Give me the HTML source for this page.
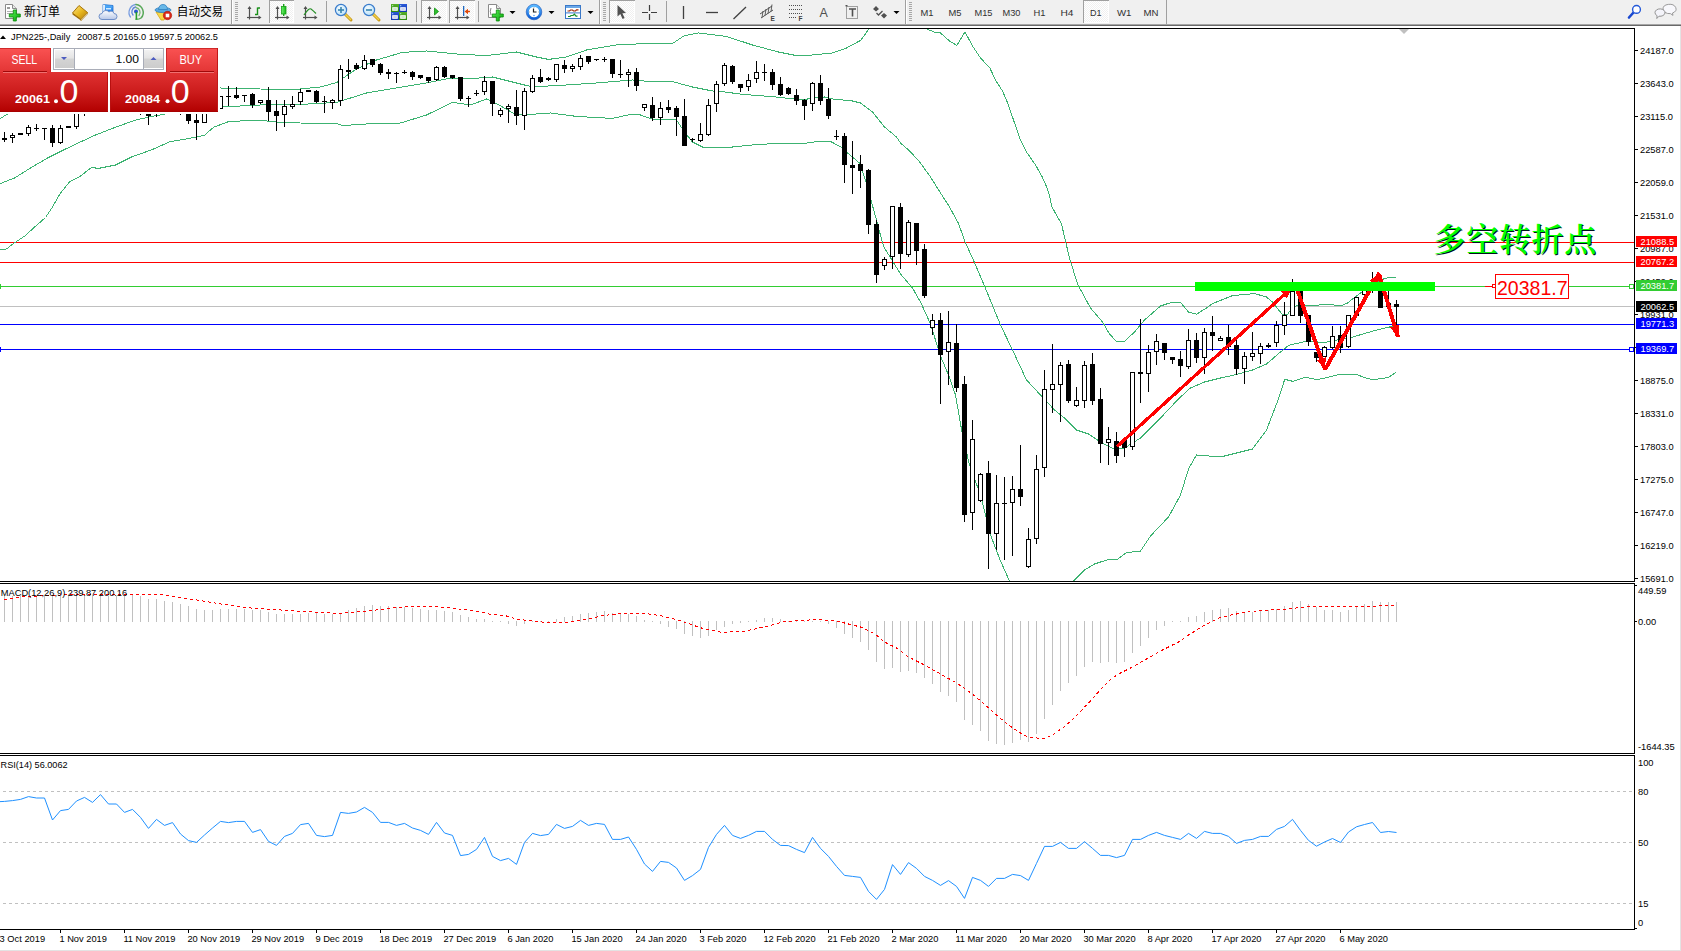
<!DOCTYPE html><html><head><meta charset="utf-8"><title>JPN225 Daily</title><style>
html,body{margin:0;padding:0;background:#fff;}body{width:1681px;height:951px;overflow:hidden;position:relative;font-family:'Liberation Sans', sans-serif;}
svg{position:absolute;left:0;top:0;}
.t{font-family:'Liberation Sans', sans-serif;font-size:9.3px;fill:#000;}
.cj{font-family:"Liberation Sans","Noto Sans CJK SC",sans-serif;}
</style></head><body>
<svg width="1681" height="951" viewBox="0 0 1681 951">
<defs><clipPath id="cm"><rect x="0" y="29" width="1634" height="552"/></clipPath><clipPath id="cmacd"><rect x="0" y="584" width="1634" height="169"/></clipPath><linearGradient id="gtop" x1="0" y1="0" x2="0" y2="1"><stop offset="0" stop-color="#fa5252"/><stop offset="1" stop-color="#e23434"/></linearGradient><linearGradient id="gbot" x1="0" y1="0" x2="0" y2="1"><stop offset="0" stop-color="#e03232"/><stop offset="0.5" stop-color="#cc1c1c"/><stop offset="1" stop-color="#b20000"/></linearGradient><linearGradient id="gbtn" x1="0" y1="0" x2="0" y2="1"><stop offset="0" stop-color="#f2f2f2"/><stop offset="0.45" stop-color="#e4e4e4"/><stop offset="0.5" stop-color="#d4d4d4"/><stop offset="1" stop-color="#cccccc"/></linearGradient><pattern id="chk" width="2" height="2" patternUnits="userSpaceOnUse"><rect width="2" height="2" fill="#f6f6f6"/><rect width="1" height="1" fill="#fff"/><rect x="1" y="1" width="1" height="1" fill="#fff"/></pattern></defs>
<rect width="1681" height="951" fill="#fff"/>
<g shape-rendering="crispEdges">
<rect x="0" y="28" width="1635" height="1" fill="#000"/>
<rect x="1634" y="28" width="1" height="554" fill="#000"/>
<rect x="0" y="581" width="1635" height="1" fill="#000"/>
<rect x="0" y="583" width="1635" height="1" fill="#000"/>
<rect x="1634" y="583" width="1" height="171" fill="#000"/>
<rect x="0" y="753" width="1635" height="1" fill="#000"/>
<rect x="0" y="755" width="1635" height="1" fill="#000"/>
<rect x="1634" y="755" width="1" height="175" fill="#000"/>
<rect x="0" y="929" width="1635" height="1" fill="#000"/>
<rect x="1680" y="26" width="1" height="925" fill="#e3e3e3"/>
<rect x="0" y="950" width="1681" height="1" fill="#e3e3e3"/>
</g>
<g clip-path="url(#cm)">
<g shape-rendering="crispEdges">
<rect x="0" y="242" width="1634" height="1" fill="#ff0000"/>
<rect x="0" y="262" width="1634" height="1" fill="#ff0000"/>
<rect x="0" y="286" width="1634" height="1" fill="#32cd32"/>
<rect x="0" y="306" width="1634" height="1" fill="#c0c0c0"/>
<rect x="0" y="324" width="1634" height="1" fill="#0000ff"/>
<rect x="0" y="349" width="1634" height="1" fill="#0000ff"/>
</g>
<polyline fill="none" stroke="#3cb371" stroke-width="1" shape-rendering="crispEdges" points="0.5,118.5 6.5,114.5 20.5,108.0 60.5,100.0 120.5,95.0 180.5,90.0 220.5,88.0 260.5,89.0 290.5,90.0 320.5,87.0 336.5,82.6 356.5,69.0 376.5,60.0 402.5,52.4 426.5,51.0 456.5,54.0 486.5,55.6 516.5,52.0 536.5,57.0 548.5,59.4 566.5,57.0 586.5,50.0 616.5,45.0 648.5,43.4 672.5,43.5 684.5,35.6 698.5,33.0 726.5,36.4 752.5,45.0 778.5,52.0 796.5,55.6 812.5,55.0 832.5,53.0 846.5,48.0 860.5,40.4 867.5,31.0 872.5,20.0 890.5,5.0 910.5,10.0 927.0,29.0 934.5,32.2 940.5,33.0 949.5,41.0 956.9,45.4 965.0,32.0 972.5,46.0 980.5,58.0 989.9,68.0 995.5,80.0 1002.5,91.0 1006.5,100.0 1012.5,117.0 1020.0,139.0 1026.5,152.0 1035.5,165.0 1041.5,175.5 1045.5,184.0 1049.0,194.0 1052.0,207.0 1061.5,224.0 1069.5,258.0 1077.5,284.0 1090.5,308.0 1102.5,322.0 1109.5,334.0 1116.5,341.4 1124.5,341.4 1134.5,332.0 1144.5,320.0 1160.5,306.0 1171.5,302.4 1180.5,302.4 1188.5,312.0 1196.5,314.2 1206.5,308.0 1212.5,303.6 1232.5,295.6 1254.5,293.6 1266.5,297.0 1273.5,303.0 1279.5,311.0 1282.9,315.0 1287.5,314.5 1290.5,310.0 1296.0,306.0 1311.2,305.5 1329.5,304.4 1336.5,305.3 1341.5,305.5 1347.5,303.0 1354.5,297.4 1361.5,292.3 1372.5,285.0 1384.0,278.7 1390.1,277.3 1396.1,277.3"/>
<polyline fill="none" stroke="#3cb371" stroke-width="1" shape-rendering="crispEdges" points="0.5,183.5 14.5,178.0 30.5,168.0 47.5,158.0 63.5,150.0 79.5,142.4 95.5,135.0 114.5,127.6 134.5,120.4 150.5,116.6 165.5,114.0 190.5,110.0 220.5,107.0 260.5,105.0 300.5,104.4 336.5,102.4 366.5,93.0 396.5,88.0 426.5,83.0 448.5,78.6 466.5,79.0 492.5,77.0 516.5,83.0 528.5,86.0 536.5,86.6 566.5,85.0 596.5,83.0 632.5,80.0 650.5,81.6 672.5,81.6 692.5,87.0 712.5,91.0 722.5,91.6 742.5,94.4 772.5,96.6 802.5,100.0 812.5,98.0 824.5,97.0 832.5,99.0 852.5,101.0 860.5,103.0 872.5,112.0 884.5,127.0 896.5,137.0 900.5,143.0 908.5,150.0 918.5,160.4 930.5,177.0 940.5,193.0 949.0,206.0 958.5,223.5 965.5,243.0 972.5,258.0 984.5,286.0 1000.5,325.0 1012.5,350.0 1026.5,380.0 1040.5,395.0 1054.5,410.0 1064.5,418.0 1076.5,430.0 1088.5,434.0 1100.5,442.0 1113.5,449.0 1124.5,448.0 1140.5,438.0 1160.5,418.0 1176.5,401.0 1189.5,388.5 1204.5,382.0 1220.5,378.0 1236.5,374.5 1252.5,370.0 1266.5,364.0 1280.5,352.0 1288.9,345.2 1305.5,341.5 1325.9,342.3 1339.5,339.4 1352.0,337.2 1373.0,331.0 1392.5,326.3 1395.5,326.0"/>
<polyline fill="none" stroke="#3cb371" stroke-width="1" shape-rendering="crispEdges" points="0.5,249.5 6.5,249.0 13.5,243.5 25.5,235.5 33.5,228.0 45.5,217.5 52.5,207.0 60.5,193.0 69.5,182.0 80.5,176.0 91.5,167.5 98.5,168.4 115.5,165.0 131.5,157.0 152.5,149.5 170.5,141.5 189.5,138.4 204.5,135.2 213.5,127.3 227.5,122.0 240.5,121.0 260.5,120.4 280.5,122.4 300.5,123.0 336.5,123.6 342.5,125.6 366.5,124.0 400.5,123.0 426.5,115.0 452.5,102.4 470.5,105.0 486.5,99.0 496.5,103.6 516.5,115.0 536.5,114.0 550.5,113.0 576.5,116.4 612.5,118.4 630.5,114.4 640.5,115.0 654.5,120.0 672.5,119.4 676.5,120.0 684.5,132.0 692.5,142.0 702.5,147.0 732.5,147.0 752.5,145.0 772.5,143.6 802.5,143.6 816.5,141.6 830.5,141.4 842.5,148.0 847.5,153.0 859.5,163.0 866.5,183.0 871.5,202.0 876.5,220.0 882.5,243.0 884.5,248.0 900.5,274.0 912.5,288.0 920.5,302.0 930.5,324.0 940.5,356.0 948.5,375.0 955.5,395.0 962.5,435.0 969.5,465.0 980.5,495.0 990.5,535.0 1000.5,561.0 1009.5,581.0 1020.5,600.0 1060.5,600.0 1073.5,581.0 1084.5,570.0 1094.5,564.0 1108.5,559.4 1117.5,559.4 1126.5,552.6 1140.5,551.0 1150.5,536.0 1168.5,517.0 1180.5,495.0 1188.5,469.0 1196.5,455.0 1220.5,457.0 1236.5,453.0 1252.5,449.0 1266.5,430.0 1276.5,404.0 1280.5,393.0 1284.7,379.3 1293.1,381.4 1305.7,377.2 1316.7,379.7 1326.8,377.6 1339.4,374.3 1356.2,374.3 1364.5,377.6 1373.0,379.7 1388.2,377.6 1396.2,372.2"/>
<g shape-rendering="crispEdges">
<rect x="4" y="132" width="1" height="10" fill="#000"/>
<rect x="2" y="138" width="5" height="2" fill="#000"/>
<rect x="12" y="133" width="1" height="10" fill="#000"/>
<rect x="10" y="135" width="5" height="3" fill="#000"/>
<rect x="11" y="136" width="3" height="1" fill="#fff"/>
<rect x="20" y="133" width="1" height="2" fill="#000"/>
<rect x="18" y="133" width="5" height="2" fill="#000"/>
<rect x="28" y="125" width="1" height="11" fill="#000"/>
<rect x="26" y="127" width="5" height="7" fill="#000"/>
<rect x="27" y="128" width="3" height="5" fill="#fff"/>
<rect x="36" y="124" width="1" height="7" fill="#000"/>
<rect x="34" y="128" width="5" height="1" fill="#000"/>
<rect x="44" y="128" width="1" height="12" fill="#000"/>
<rect x="42" y="128" width="5" height="1" fill="#000"/>
<rect x="52" y="125" width="1" height="22" fill="#000"/>
<rect x="50" y="128" width="5" height="15" fill="#000"/>
<rect x="60" y="125" width="1" height="19" fill="#000"/>
<rect x="58" y="128" width="5" height="15" fill="#000"/>
<rect x="59" y="129" width="3" height="13" fill="#fff"/>
<rect x="68" y="126" width="1" height="1" fill="#000"/>
<rect x="66" y="126" width="5" height="2" fill="#000"/>
<rect x="76" y="100" width="1" height="29" fill="#000"/>
<rect x="74" y="102" width="5" height="25" fill="#000"/>
<rect x="75" y="103" width="3" height="23" fill="#fff"/>
<rect x="84" y="100" width="1" height="16" fill="#000"/>
<rect x="82" y="102" width="5" height="11" fill="#000"/>
<rect x="83" y="103" width="3" height="9" fill="#fff"/>
<rect x="140" y="105" width="1" height="10" fill="#000"/>
<rect x="138" y="106" width="5" height="4" fill="#000"/>
<rect x="148" y="105" width="1" height="20" fill="#000"/>
<rect x="146" y="114" width="5" height="2" fill="#000"/>
<rect x="156" y="105" width="1" height="12" fill="#000"/>
<rect x="154" y="106" width="5" height="2" fill="#000"/>
<rect x="180" y="105" width="1" height="10" fill="#000"/>
<rect x="178" y="106" width="5" height="2" fill="#000"/>
<rect x="188" y="105" width="1" height="19" fill="#000"/>
<rect x="186" y="106" width="5" height="15" fill="#000"/>
<rect x="196" y="105" width="1" height="35" fill="#000"/>
<rect x="194" y="120" width="5" height="3" fill="#000"/>
<rect x="204" y="105" width="1" height="18" fill="#000"/>
<rect x="202" y="106" width="5" height="17" fill="#000"/>
<rect x="203" y="107" width="3" height="15" fill="#fff"/>
<rect x="220" y="96" width="1" height="13" fill="#000"/>
<rect x="218" y="96" width="5" height="13" fill="#000"/>
<rect x="219" y="97" width="3" height="11" fill="#fff"/>
<rect x="228" y="86" width="1" height="20" fill="#000"/>
<rect x="226" y="96" width="5" height="1" fill="#000"/>
<rect x="236" y="87" width="1" height="12" fill="#000"/>
<rect x="234" y="95" width="5" height="3" fill="#000"/>
<rect x="244" y="95" width="1" height="7" fill="#000"/>
<rect x="242" y="95" width="5" height="1" fill="#000"/>
<rect x="252" y="93" width="1" height="15" fill="#000"/>
<rect x="250" y="94" width="5" height="11" fill="#000"/>
<rect x="260" y="100" width="1" height="4" fill="#000"/>
<rect x="258" y="100" width="5" height="3" fill="#000"/>
<rect x="259" y="101" width="3" height="1" fill="#fff"/>
<rect x="268" y="87" width="1" height="34" fill="#000"/>
<rect x="266" y="100" width="5" height="12" fill="#000"/>
<rect x="276" y="100" width="1" height="31" fill="#000"/>
<rect x="274" y="111" width="5" height="5" fill="#000"/>
<rect x="284" y="100" width="1" height="27" fill="#000"/>
<rect x="282" y="106" width="5" height="9" fill="#000"/>
<rect x="283" y="107" width="3" height="7" fill="#fff"/>
<rect x="292" y="96" width="1" height="13" fill="#000"/>
<rect x="290" y="104" width="5" height="3" fill="#000"/>
<rect x="291" y="105" width="3" height="1" fill="#fff"/>
<rect x="300" y="89" width="1" height="16" fill="#000"/>
<rect x="298" y="92" width="5" height="10" fill="#000"/>
<rect x="299" y="93" width="3" height="8" fill="#fff"/>
<rect x="308" y="90" width="1" height="2" fill="#000"/>
<rect x="306" y="90" width="5" height="2" fill="#000"/>
<rect x="316" y="90" width="1" height="13" fill="#000"/>
<rect x="314" y="91" width="5" height="11" fill="#000"/>
<rect x="324" y="96" width="1" height="17" fill="#000"/>
<rect x="322" y="101" width="5" height="1" fill="#000"/>
<rect x="332" y="99" width="1" height="10" fill="#000"/>
<rect x="330" y="100" width="5" height="3" fill="#000"/>
<rect x="331" y="101" width="3" height="1" fill="#fff"/>
<rect x="340" y="65" width="1" height="41" fill="#000"/>
<rect x="338" y="69" width="5" height="32" fill="#000"/>
<rect x="339" y="70" width="3" height="30" fill="#fff"/>
<rect x="348" y="59" width="1" height="20" fill="#000"/>
<rect x="346" y="70" width="5" height="2" fill="#000"/>
<rect x="356" y="63" width="1" height="7" fill="#000"/>
<rect x="354" y="65" width="5" height="4" fill="#000"/>
<rect x="364" y="55" width="1" height="15" fill="#000"/>
<rect x="362" y="60" width="5" height="9" fill="#000"/>
<rect x="363" y="61" width="3" height="7" fill="#fff"/>
<rect x="372" y="59" width="1" height="8" fill="#000"/>
<rect x="370" y="59" width="5" height="6" fill="#000"/>
<rect x="380" y="63" width="1" height="12" fill="#000"/>
<rect x="378" y="64" width="5" height="9" fill="#000"/>
<rect x="388" y="69" width="1" height="10" fill="#000"/>
<rect x="386" y="72" width="5" height="2" fill="#000"/>
<rect x="396" y="72" width="1" height="11" fill="#000"/>
<rect x="394" y="73" width="5" height="1" fill="#000"/>
<rect x="404" y="70" width="1" height="4" fill="#000"/>
<rect x="402" y="72" width="5" height="1" fill="#000"/>
<rect x="412" y="71" width="1" height="9" fill="#000"/>
<rect x="410" y="72" width="5" height="5" fill="#000"/>
<rect x="420" y="75" width="1" height="4" fill="#000"/>
<rect x="418" y="75" width="5" height="3" fill="#000"/>
<rect x="428" y="77" width="1" height="6" fill="#000"/>
<rect x="426" y="77" width="5" height="4" fill="#000"/>
<rect x="436" y="66" width="1" height="15" fill="#000"/>
<rect x="434" y="67" width="5" height="13" fill="#000"/>
<rect x="435" y="68" width="3" height="11" fill="#fff"/>
<rect x="444" y="66" width="1" height="12" fill="#000"/>
<rect x="442" y="67" width="5" height="10" fill="#000"/>
<rect x="452" y="75" width="1" height="4" fill="#000"/>
<rect x="450" y="75" width="5" height="3" fill="#000"/>
<rect x="460" y="77" width="1" height="24" fill="#000"/>
<rect x="458" y="77" width="5" height="22" fill="#000"/>
<rect x="468" y="96" width="1" height="11" fill="#000"/>
<rect x="466" y="98" width="5" height="1" fill="#000"/>
<rect x="476" y="90" width="1" height="6" fill="#000"/>
<rect x="474" y="93" width="5" height="1" fill="#000"/>
<rect x="484" y="76" width="1" height="19" fill="#000"/>
<rect x="482" y="81" width="5" height="11" fill="#000"/>
<rect x="483" y="82" width="3" height="9" fill="#fff"/>
<rect x="492" y="81" width="1" height="35" fill="#000"/>
<rect x="490" y="81" width="5" height="23" fill="#000"/>
<rect x="500" y="108" width="1" height="9" fill="#000"/>
<rect x="498" y="110" width="5" height="5" fill="#000"/>
<rect x="499" y="111" width="3" height="3" fill="#fff"/>
<rect x="508" y="104" width="1" height="19" fill="#000"/>
<rect x="506" y="106" width="5" height="3" fill="#000"/>
<rect x="507" y="107" width="3" height="1" fill="#fff"/>
<rect x="516" y="90" width="1" height="35" fill="#000"/>
<rect x="514" y="107" width="5" height="9" fill="#000"/>
<rect x="524" y="88" width="1" height="42" fill="#000"/>
<rect x="522" y="91" width="5" height="25" fill="#000"/>
<rect x="523" y="92" width="3" height="23" fill="#fff"/>
<rect x="532" y="75" width="1" height="18" fill="#000"/>
<rect x="530" y="78" width="5" height="14" fill="#000"/>
<rect x="531" y="79" width="3" height="12" fill="#fff"/>
<rect x="540" y="69" width="1" height="14" fill="#000"/>
<rect x="538" y="77" width="5" height="5" fill="#000"/>
<rect x="548" y="77" width="1" height="4" fill="#000"/>
<rect x="546" y="78" width="5" height="2" fill="#000"/>
<rect x="556" y="64" width="1" height="18" fill="#000"/>
<rect x="554" y="64" width="5" height="16" fill="#000"/>
<rect x="555" y="65" width="3" height="14" fill="#fff"/>
<rect x="564" y="60" width="1" height="13" fill="#000"/>
<rect x="562" y="65" width="5" height="4" fill="#000"/>
<rect x="572" y="64" width="1" height="8" fill="#000"/>
<rect x="570" y="66" width="5" height="3" fill="#000"/>
<rect x="571" y="67" width="3" height="1" fill="#fff"/>
<rect x="580" y="55" width="1" height="15" fill="#000"/>
<rect x="578" y="58" width="5" height="9" fill="#000"/>
<rect x="579" y="59" width="3" height="7" fill="#fff"/>
<rect x="588" y="56" width="1" height="8" fill="#000"/>
<rect x="586" y="56" width="5" height="6" fill="#000"/>
<rect x="596" y="59" width="1" height="2" fill="#000"/>
<rect x="594" y="59" width="5" height="1" fill="#000"/>
<rect x="604" y="57" width="1" height="5" fill="#000"/>
<rect x="602" y="59" width="5" height="1" fill="#000"/>
<rect x="612" y="59" width="1" height="19" fill="#000"/>
<rect x="610" y="59" width="5" height="15" fill="#000"/>
<rect x="620" y="60" width="1" height="18" fill="#000"/>
<rect x="618" y="74" width="5" height="1" fill="#000"/>
<rect x="628" y="69" width="1" height="18" fill="#000"/>
<rect x="626" y="72" width="5" height="3" fill="#000"/>
<rect x="627" y="73" width="3" height="1" fill="#fff"/>
<rect x="636" y="68" width="1" height="23" fill="#000"/>
<rect x="634" y="72" width="5" height="14" fill="#000"/>
<rect x="644" y="104" width="1" height="7" fill="#000"/>
<rect x="642" y="104" width="5" height="4" fill="#000"/>
<rect x="643" y="105" width="3" height="2" fill="#fff"/>
<rect x="652" y="97" width="1" height="24" fill="#000"/>
<rect x="650" y="105" width="5" height="13" fill="#000"/>
<rect x="660" y="102" width="1" height="23" fill="#000"/>
<rect x="658" y="108" width="5" height="10" fill="#000"/>
<rect x="659" y="109" width="3" height="8" fill="#fff"/>
<rect x="668" y="100" width="1" height="13" fill="#000"/>
<rect x="666" y="107" width="5" height="3" fill="#000"/>
<rect x="676" y="106" width="1" height="30" fill="#000"/>
<rect x="674" y="108" width="5" height="9" fill="#000"/>
<rect x="684" y="99" width="1" height="47" fill="#000"/>
<rect x="682" y="116" width="5" height="30" fill="#000"/>
<rect x="692" y="138" width="1" height="4" fill="#000"/>
<rect x="690" y="139" width="5" height="1" fill="#000"/>
<rect x="700" y="123" width="1" height="19" fill="#000"/>
<rect x="698" y="134" width="5" height="7" fill="#000"/>
<rect x="699" y="135" width="3" height="5" fill="#fff"/>
<rect x="708" y="99" width="1" height="37" fill="#000"/>
<rect x="706" y="105" width="5" height="30" fill="#000"/>
<rect x="707" y="106" width="3" height="28" fill="#fff"/>
<rect x="716" y="81" width="1" height="31" fill="#000"/>
<rect x="714" y="84" width="5" height="20" fill="#000"/>
<rect x="715" y="85" width="3" height="18" fill="#fff"/>
<rect x="724" y="63" width="1" height="23" fill="#000"/>
<rect x="722" y="65" width="5" height="19" fill="#000"/>
<rect x="723" y="66" width="3" height="17" fill="#fff"/>
<rect x="732" y="65" width="1" height="19" fill="#000"/>
<rect x="730" y="66" width="5" height="16" fill="#000"/>
<rect x="740" y="84" width="1" height="8" fill="#000"/>
<rect x="738" y="84" width="5" height="4" fill="#000"/>
<rect x="748" y="74" width="1" height="17" fill="#000"/>
<rect x="746" y="80" width="5" height="7" fill="#000"/>
<rect x="747" y="81" width="3" height="5" fill="#fff"/>
<rect x="756" y="61" width="1" height="22" fill="#000"/>
<rect x="754" y="72" width="5" height="7" fill="#000"/>
<rect x="755" y="73" width="3" height="5" fill="#fff"/>
<rect x="764" y="64" width="1" height="17" fill="#000"/>
<rect x="762" y="72" width="5" height="1" fill="#000"/>
<rect x="772" y="69" width="1" height="21" fill="#000"/>
<rect x="770" y="72" width="5" height="13" fill="#000"/>
<rect x="780" y="77" width="1" height="19" fill="#000"/>
<rect x="778" y="84" width="5" height="11" fill="#000"/>
<rect x="788" y="87" width="1" height="8" fill="#000"/>
<rect x="786" y="88" width="5" height="6" fill="#000"/>
<rect x="796" y="89" width="1" height="16" fill="#000"/>
<rect x="794" y="95" width="5" height="6" fill="#000"/>
<rect x="804" y="99" width="1" height="21" fill="#000"/>
<rect x="802" y="100" width="5" height="6" fill="#000"/>
<rect x="812" y="82" width="1" height="29" fill="#000"/>
<rect x="810" y="83" width="5" height="21" fill="#000"/>
<rect x="811" y="84" width="3" height="19" fill="#fff"/>
<rect x="820" y="75" width="1" height="30" fill="#000"/>
<rect x="818" y="83" width="5" height="18" fill="#000"/>
<rect x="828" y="88" width="1" height="31" fill="#000"/>
<rect x="826" y="99" width="5" height="17" fill="#000"/>
<rect x="836" y="130" width="1" height="10" fill="#000"/>
<rect x="834" y="136" width="5" height="1" fill="#000"/>
<rect x="844" y="133" width="1" height="50" fill="#000"/>
<rect x="842" y="136" width="5" height="29" fill="#000"/>
<rect x="852" y="141" width="1" height="53" fill="#000"/>
<rect x="850" y="165" width="5" height="3" fill="#000"/>
<rect x="860" y="155" width="1" height="33" fill="#000"/>
<rect x="858" y="164" width="5" height="7" fill="#000"/>
<rect x="868" y="169" width="1" height="65" fill="#000"/>
<rect x="866" y="170" width="5" height="55" fill="#000"/>
<rect x="876" y="220" width="1" height="63" fill="#000"/>
<rect x="874" y="224" width="5" height="51" fill="#000"/>
<rect x="884" y="257" width="1" height="13" fill="#000"/>
<rect x="882" y="259" width="5" height="7" fill="#000"/>
<rect x="883" y="260" width="3" height="5" fill="#fff"/>
<rect x="892" y="206" width="1" height="63" fill="#000"/>
<rect x="890" y="206" width="5" height="51" fill="#000"/>
<rect x="891" y="207" width="3" height="49" fill="#fff"/>
<rect x="900" y="203" width="1" height="66" fill="#000"/>
<rect x="898" y="207" width="5" height="47" fill="#000"/>
<rect x="908" y="220" width="1" height="37" fill="#000"/>
<rect x="906" y="222" width="5" height="33" fill="#000"/>
<rect x="907" y="223" width="3" height="31" fill="#fff"/>
<rect x="916" y="223" width="1" height="42" fill="#000"/>
<rect x="914" y="223" width="5" height="28" fill="#000"/>
<rect x="924" y="244" width="1" height="54" fill="#000"/>
<rect x="922" y="249" width="5" height="47" fill="#000"/>
<rect x="932" y="314" width="1" height="21" fill="#000"/>
<rect x="930" y="320" width="5" height="8" fill="#000"/>
<rect x="931" y="321" width="3" height="6" fill="#fff"/>
<rect x="940" y="313" width="1" height="91" fill="#000"/>
<rect x="938" y="320" width="5" height="35" fill="#000"/>
<rect x="948" y="311" width="1" height="74" fill="#000"/>
<rect x="946" y="342" width="5" height="10" fill="#000"/>
<rect x="947" y="343" width="3" height="8" fill="#fff"/>
<rect x="956" y="324" width="1" height="68" fill="#000"/>
<rect x="954" y="343" width="5" height="45" fill="#000"/>
<rect x="964" y="376" width="1" height="146" fill="#000"/>
<rect x="962" y="384" width="5" height="131" fill="#000"/>
<rect x="972" y="420" width="1" height="110" fill="#000"/>
<rect x="970" y="439" width="5" height="74" fill="#000"/>
<rect x="971" y="440" width="3" height="72" fill="#fff"/>
<rect x="980" y="473" width="1" height="29" fill="#000"/>
<rect x="978" y="474" width="5" height="27" fill="#000"/>
<rect x="979" y="475" width="3" height="25" fill="#fff"/>
<rect x="988" y="461" width="1" height="108" fill="#000"/>
<rect x="986" y="473" width="5" height="61" fill="#000"/>
<rect x="996" y="475" width="1" height="75" fill="#000"/>
<rect x="994" y="503" width="5" height="31" fill="#000"/>
<rect x="995" y="504" width="3" height="29" fill="#fff"/>
<rect x="1004" y="477" width="1" height="83" fill="#000"/>
<rect x="1002" y="503" width="5" height="1" fill="#000"/>
<rect x="1012" y="476" width="1" height="80" fill="#000"/>
<rect x="1010" y="489" width="5" height="14" fill="#000"/>
<rect x="1011" y="490" width="3" height="12" fill="#fff"/>
<rect x="1020" y="445" width="1" height="61" fill="#000"/>
<rect x="1018" y="489" width="5" height="8" fill="#000"/>
<rect x="1028" y="528" width="1" height="40" fill="#000"/>
<rect x="1026" y="539" width="5" height="28" fill="#000"/>
<rect x="1027" y="540" width="3" height="26" fill="#fff"/>
<rect x="1036" y="455" width="1" height="89" fill="#000"/>
<rect x="1034" y="469" width="5" height="70" fill="#000"/>
<rect x="1035" y="470" width="3" height="68" fill="#fff"/>
<rect x="1044" y="370" width="1" height="107" fill="#000"/>
<rect x="1042" y="389" width="5" height="79" fill="#000"/>
<rect x="1043" y="390" width="3" height="77" fill="#fff"/>
<rect x="1052" y="344" width="1" height="69" fill="#000"/>
<rect x="1050" y="384" width="5" height="6" fill="#000"/>
<rect x="1051" y="385" width="3" height="4" fill="#fff"/>
<rect x="1060" y="362" width="1" height="60" fill="#000"/>
<rect x="1058" y="365" width="5" height="20" fill="#000"/>
<rect x="1059" y="366" width="3" height="18" fill="#fff"/>
<rect x="1068" y="360" width="1" height="43" fill="#000"/>
<rect x="1066" y="364" width="5" height="37" fill="#000"/>
<rect x="1076" y="387" width="1" height="20" fill="#000"/>
<rect x="1074" y="400" width="5" height="6" fill="#000"/>
<rect x="1075" y="401" width="3" height="4" fill="#fff"/>
<rect x="1084" y="361" width="1" height="47" fill="#000"/>
<rect x="1082" y="365" width="5" height="36" fill="#000"/>
<rect x="1083" y="366" width="3" height="34" fill="#fff"/>
<rect x="1092" y="353" width="1" height="52" fill="#000"/>
<rect x="1090" y="364" width="5" height="37" fill="#000"/>
<rect x="1100" y="388" width="1" height="75" fill="#000"/>
<rect x="1098" y="399" width="5" height="45" fill="#000"/>
<rect x="1108" y="427" width="1" height="38" fill="#000"/>
<rect x="1106" y="439" width="5" height="4" fill="#000"/>
<rect x="1107" y="440" width="3" height="2" fill="#fff"/>
<rect x="1116" y="432" width="1" height="31" fill="#000"/>
<rect x="1114" y="441" width="5" height="15" fill="#000"/>
<rect x="1124" y="438" width="1" height="19" fill="#000"/>
<rect x="1122" y="440" width="5" height="8" fill="#000"/>
<rect x="1132" y="372" width="1" height="78" fill="#000"/>
<rect x="1130" y="372" width="5" height="75" fill="#000"/>
<rect x="1131" y="373" width="3" height="73" fill="#fff"/>
<rect x="1140" y="319" width="1" height="84" fill="#000"/>
<rect x="1138" y="372" width="5" height="2" fill="#000"/>
<rect x="1148" y="345" width="1" height="47" fill="#000"/>
<rect x="1146" y="352" width="5" height="22" fill="#000"/>
<rect x="1147" y="353" width="3" height="20" fill="#fff"/>
<rect x="1156" y="334" width="1" height="31" fill="#000"/>
<rect x="1154" y="341" width="5" height="11" fill="#000"/>
<rect x="1155" y="342" width="3" height="9" fill="#fff"/>
<rect x="1164" y="343" width="1" height="17" fill="#000"/>
<rect x="1162" y="343" width="5" height="10" fill="#000"/>
<rect x="1172" y="357" width="1" height="7" fill="#000"/>
<rect x="1170" y="357" width="5" height="3" fill="#000"/>
<rect x="1180" y="351" width="1" height="26" fill="#000"/>
<rect x="1178" y="359" width="5" height="7" fill="#000"/>
<rect x="1188" y="329" width="1" height="40" fill="#000"/>
<rect x="1186" y="340" width="5" height="27" fill="#000"/>
<rect x="1187" y="341" width="3" height="25" fill="#fff"/>
<rect x="1196" y="333" width="1" height="30" fill="#000"/>
<rect x="1194" y="340" width="5" height="18" fill="#000"/>
<rect x="1204" y="328" width="1" height="46" fill="#000"/>
<rect x="1202" y="332" width="5" height="26" fill="#000"/>
<rect x="1203" y="333" width="3" height="24" fill="#fff"/>
<rect x="1212" y="316" width="1" height="35" fill="#000"/>
<rect x="1210" y="332" width="5" height="4" fill="#000"/>
<rect x="1220" y="336" width="1" height="5" fill="#000"/>
<rect x="1218" y="338" width="5" height="3" fill="#000"/>
<rect x="1219" y="339" width="3" height="1" fill="#fff"/>
<rect x="1228" y="325" width="1" height="30" fill="#000"/>
<rect x="1226" y="337" width="5" height="10" fill="#000"/>
<rect x="1236" y="340" width="1" height="35" fill="#000"/>
<rect x="1234" y="345" width="5" height="24" fill="#000"/>
<rect x="1244" y="352" width="1" height="32" fill="#000"/>
<rect x="1242" y="356" width="5" height="13" fill="#000"/>
<rect x="1243" y="357" width="3" height="11" fill="#fff"/>
<rect x="1252" y="332" width="1" height="29" fill="#000"/>
<rect x="1250" y="353" width="5" height="4" fill="#000"/>
<rect x="1251" y="354" width="3" height="2" fill="#fff"/>
<rect x="1260" y="343" width="1" height="21" fill="#000"/>
<rect x="1258" y="346" width="5" height="8" fill="#000"/>
<rect x="1259" y="347" width="3" height="6" fill="#fff"/>
<rect x="1268" y="343" width="1" height="5" fill="#000"/>
<rect x="1266" y="345" width="5" height="2" fill="#000"/>
<rect x="1276" y="321" width="1" height="26" fill="#000"/>
<rect x="1274" y="325" width="5" height="18" fill="#000"/>
<rect x="1275" y="326" width="3" height="16" fill="#fff"/>
<rect x="1284" y="302" width="1" height="33" fill="#000"/>
<rect x="1282" y="315" width="5" height="11" fill="#000"/>
<rect x="1283" y="316" width="3" height="9" fill="#fff"/>
<rect x="1292" y="279" width="1" height="37" fill="#000"/>
<rect x="1290" y="291" width="5" height="25" fill="#000"/>
<rect x="1291" y="292" width="3" height="23" fill="#fff"/>
<rect x="1300" y="291" width="1" height="32" fill="#000"/>
<rect x="1298" y="291" width="5" height="25" fill="#000"/>
<rect x="1308" y="315" width="1" height="31" fill="#000"/>
<rect x="1306" y="315" width="5" height="27" fill="#000"/>
<rect x="1316" y="352" width="1" height="10" fill="#000"/>
<rect x="1314" y="352" width="5" height="6" fill="#000"/>
<rect x="1324" y="346" width="1" height="11" fill="#000"/>
<rect x="1322" y="347" width="5" height="10" fill="#000"/>
<rect x="1323" y="348" width="3" height="8" fill="#fff"/>
<rect x="1332" y="326" width="1" height="23" fill="#000"/>
<rect x="1330" y="336" width="5" height="12" fill="#000"/>
<rect x="1331" y="337" width="3" height="10" fill="#fff"/>
<rect x="1340" y="326" width="1" height="27" fill="#000"/>
<rect x="1338" y="335" width="5" height="13" fill="#000"/>
<rect x="1348" y="315" width="1" height="33" fill="#000"/>
<rect x="1346" y="315" width="5" height="32" fill="#000"/>
<rect x="1347" y="316" width="3" height="30" fill="#fff"/>
<rect x="1356" y="297" width="1" height="19" fill="#000"/>
<rect x="1354" y="297" width="5" height="19" fill="#000"/>
<rect x="1355" y="298" width="3" height="17" fill="#fff"/>
<rect x="1364" y="288" width="1" height="7" fill="#000"/>
<rect x="1362" y="288" width="5" height="7" fill="#000"/>
<rect x="1363" y="289" width="3" height="5" fill="#fff"/>
<rect x="1372" y="272" width="1" height="21" fill="#000"/>
<rect x="1370" y="284" width="5" height="5" fill="#000"/>
<rect x="1371" y="285" width="3" height="3" fill="#fff"/>
<rect x="1380" y="291" width="1" height="17" fill="#000"/>
<rect x="1378" y="291" width="5" height="17" fill="#000"/>
<rect x="1388" y="285" width="1" height="22" fill="#000"/>
<rect x="1386" y="303" width="5" height="4" fill="#000"/>
<rect x="1396" y="300" width="1" height="27" fill="#000"/>
<rect x="1394" y="304" width="5" height="3" fill="#000"/>
</g>
<g shape-rendering="crispEdges">
<line x1="1117.0" y1="446.5" x2="1292.0" y2="287.5" stroke="#ff0000" stroke-width="3.3" stroke-linecap="butt"/><polygon fill="#ff0000" points="1292.0,287.5 1287.0,298.3 1280.8,291.5"/>
<line x1="1296.0" y1="286.0" x2="1325.0" y2="369.5" stroke="#ff0000" stroke-width="4" stroke-linecap="butt"/><polygon fill="#ff0000" points="1325.0,369.5 1316.7,360.2 1325.8,357.1"/>
<line x1="1325.0" y1="369.5" x2="1379.5" y2="273.0" stroke="#ff0000" stroke-width="4" stroke-linecap="butt"/><polygon fill="#ff0000" points="1379.5,273.0 1378.0,285.4 1369.7,280.7"/>
<line x1="1379.0" y1="274.0" x2="1398.0" y2="337.0" stroke="#ff0000" stroke-width="4" stroke-linecap="butt"/><polygon fill="#ff0000" points="1398.0,337.0 1390.1,327.4 1399.3,324.6"/>
<rect x="1195" y="282" width="240" height="9" fill="#00ff00"/>
<rect x="1629.5" y="284.5" width="4" height="4" fill="#fff" stroke="#32cd32" stroke-width="1"/>
<rect x="1629.5" y="347.5" width="4" height="4" fill="#fff" stroke="#0000ff" stroke-width="1"/>
<rect x="0" y="284" width="1" height="5" fill="#32cd32"/>
<rect x="0" y="347" width="1" height="5" fill="#0000ff"/>
<rect x="1485" y="286" width="8" height="1" fill="#ff0000"/>
<rect x="1492.5" y="284.5" width="3" height="3" fill="#fff" stroke="#ff0000" stroke-width="1"/>
<rect x="1495.5" y="274.5" width="73" height="24" fill="#fff" stroke="#ff0000" stroke-width="1"/>
</g>
<polygon points="1399,29 1409,29 1404,34" fill="#c0c0c0"/>
<text x="1497" y="294.5" textLength="70.5" lengthAdjust="spacingAndGlyphs" style="font-family:'Liberation Sans', sans-serif;font-size:21px;fill:#ff0000">20381.7</text>
<text x="1434.5" y="251.5" style="font-family:'Liberation Serif','Noto Serif CJK SC',serif;font-weight:600;font-size:32px;letter-spacing:0.7px;fill:#001020">多空转折点</text>
<text x="1433.5" y="250.5" style="font-family:'Liberation Serif','Noto Serif CJK SC',serif;font-weight:600;font-size:32px;letter-spacing:0.7px;fill:#00ff00">多空转折点</text>
</g>
<g shape-rendering="crispEdges">
<rect x="0" y="46" width="220" height="68" fill="#fff"/>
<rect x="0" y="48" width="51" height="25" fill="url(#gtop)"/>
<rect x="166" y="48" width="52" height="25" fill="url(#gtop)"/>
<rect x="0" y="72" width="108" height="40" fill="url(#gbot)"/>
<rect x="110" y="72" width="108" height="40" fill="url(#gbot)"/>
<rect x="0" y="48" width="51" height="1" fill="#d02828"/><rect x="50" y="48" width="1" height="24" fill="#d02828"/>
<rect x="166" y="48" width="52" height="1" fill="#d02828"/><rect x="166" y="48" width="1" height="24" fill="#d02828"/><rect x="217" y="48" width="1" height="64" fill="#c01818"/>
<rect x="107" y="72" width="1" height="40" fill="#b81010"/><rect x="110" y="72" width="1" height="40" fill="#b81010"/>
<rect x="0" y="111" width="108" height="1" fill="#a80000"/><rect x="110" y="111" width="108" height="1" fill="#a80000"/>
<rect x="3" y="71" width="44" height="1" fill="#a00808"/><rect x="3" y="72" width="44" height="1" fill="#f07070"/>
<rect x="170" y="71" width="44" height="1" fill="#a00808"/><rect x="170" y="72" width="44" height="1" fill="#f07070"/>
<rect x="53.5" y="48.5" width="110" height="21" fill="#fff" stroke="#a9adb8" stroke-width="1"/>
<rect x="55" y="50" width="19" height="18" fill="url(#gbtn)"/><rect x="74" y="49" width="1" height="20" fill="#a9adb8"/>
<rect x="144" y="50" width="19" height="18" fill="url(#gbtn)"/><rect x="143" y="49" width="1" height="20" fill="#a9adb8"/>
</g>
<polygon points="61,57 67,57 64,60" fill="#4d5cc0"/>
<polygon points="150.5,60 156.5,60 153.5,57" fill="#4d5cc0"/>
<text x="115.5" y="63" textLength="23.5" lengthAdjust="spacingAndGlyphs" style="font-family:'Liberation Sans', sans-serif;font-size:11.5px;fill:#000">1.00</text>
<text x="11.4" y="64" textLength="25.8" lengthAdjust="spacingAndGlyphs" style="font-family:'Liberation Sans', sans-serif;font-size:12.3px;fill:#fff">SELL</text>
<text x="179.4" y="64" textLength="22.8" lengthAdjust="spacingAndGlyphs" style="font-family:'Liberation Sans', sans-serif;font-size:12.3px;fill:#fff">BUY</text>
<text x="15" y="103" textLength="35" lengthAdjust="spacingAndGlyphs" style="font-family:'Liberation Sans', sans-serif;font-size:11.5px;font-weight:bold;fill:#fff">20061</text>
<circle cx="56" cy="101.2" r="2" fill="#fff"/>
<text x="59.6" y="103" style="font-family:'Liberation Sans', sans-serif;font-size:34px;fill:#fff">0</text>
<text x="125" y="103" textLength="35" lengthAdjust="spacingAndGlyphs" style="font-family:'Liberation Sans', sans-serif;font-size:11.5px;font-weight:bold;fill:#fff">20084</text>
<circle cx="167.5" cy="101.2" r="2" fill="#fff"/>
<text x="170.8" y="103" style="font-family:'Liberation Sans', sans-serif;font-size:34px;fill:#fff">0</text>
<polygon points="0,39 6,39 3,35.5" fill="#000"/>
<text x="11" y="40" class="t" textLength="59.3" lengthAdjust="spacingAndGlyphs">JPN225-,Daily</text><text x="77" y="40" class="t" textLength="141" lengthAdjust="spacingAndGlyphs">20087.5 20165.0 19597.5 20062.5</text>
<g shape-rendering="crispEdges">
<rect x="1635" y="50" width="3" height="1" fill="#000"/>
<rect x="1635" y="83" width="3" height="1" fill="#000"/>
<rect x="1635" y="116" width="3" height="1" fill="#000"/>
<rect x="1635" y="149" width="3" height="1" fill="#000"/>
<rect x="1635" y="182" width="3" height="1" fill="#000"/>
<rect x="1635" y="215" width="3" height="1" fill="#000"/>
<rect x="1635" y="248" width="3" height="1" fill="#000"/>
<rect x="1635" y="281" width="3" height="1" fill="#000"/>
<rect x="1635" y="314" width="3" height="1" fill="#000"/>
<rect x="1635" y="347" width="3" height="1" fill="#000"/>
<rect x="1635" y="380" width="3" height="1" fill="#000"/>
<rect x="1635" y="413" width="3" height="1" fill="#000"/>
<rect x="1635" y="446" width="3" height="1" fill="#000"/>
<rect x="1635" y="479" width="3" height="1" fill="#000"/>
<rect x="1635" y="512" width="3" height="1" fill="#000"/>
<rect x="1635" y="545" width="3" height="1" fill="#000"/>
<rect x="1635" y="578" width="3" height="1" fill="#000"/>
<rect x="1635" y="585" width="2" height="1" fill="#000"/><rect x="1635" y="621" width="2" height="1" fill="#000"/><rect x="1635" y="928" width="2" height="1" fill="#000"/>
</g>
<text x="1640" y="53.6" class="t">24187.0</text>
<text x="1640" y="86.6" class="t">23643.0</text>
<text x="1640" y="119.6" class="t">23115.0</text>
<text x="1640" y="152.6" class="t">22587.0</text>
<text x="1640" y="185.6" class="t">22059.0</text>
<text x="1640" y="218.6" class="t">21531.0</text>
<text x="1640" y="251.6" class="t">20987.0</text>
<text x="1640" y="284.6" class="t">20459.0</text>
<text x="1640" y="317.6" class="t">19931.0</text>
<text x="1640" y="350.6" class="t">19403.0</text>
<text x="1640" y="383.6" class="t">18875.0</text>
<text x="1640" y="416.6" class="t">18331.0</text>
<text x="1640" y="449.6" class="t">17803.0</text>
<text x="1640" y="482.6" class="t">17275.0</text>
<text x="1640" y="515.6" class="t">16747.0</text>
<text x="1640" y="548.6" class="t">16219.0</text>
<text x="1640" y="581.6" class="t">15691.0</text>
<g shape-rendering="crispEdges">
<rect x="1636" y="236" width="41" height="11" fill="#ff0000"/>
<rect x="1636" y="256" width="41" height="11" fill="#ff0000"/>
<rect x="1636" y="280" width="41" height="11" fill="#32cd32"/>
<rect x="1636" y="301" width="41" height="11" fill="#000000"/>
<rect x="1636" y="318" width="41" height="11" fill="#0000ff"/>
<rect x="1636" y="343" width="41" height="11" fill="#0000ff"/>
</g>
<text x="1640.5" y="244.8" class="t" style="fill:#fff">21088.5</text>
<text x="1640.5" y="264.8" class="t" style="fill:#fff">20767.2</text>
<text x="1640.5" y="288.8" class="t" style="fill:#fff">20381.7</text>
<text x="1640.5" y="309.8" class="t" style="fill:#fff">20062.5</text>
<text x="1640.5" y="326.8" class="t" style="fill:#fff">19771.3</text>
<text x="1640.5" y="351.8" class="t" style="fill:#fff">19369.7</text>
<text x="1638" y="593.6" class="t">449.59</text>
<text x="1638" y="624.6" class="t">0.00</text>
<text x="1638" y="749.6" class="t">-1644.35</text>
<text x="1638" y="765.6" class="t">100</text>
<text x="1638" y="794.6" class="t">80</text>
<text x="1638" y="845.6" class="t">50</text>
<text x="1638" y="906.6" class="t">15</text>
<text x="1638" y="926.1" class="t">0</text>
<g clip-path="url(#cmacd)">
<g shape-rendering="crispEdges">
<rect x="4" y="596" width="1" height="26" fill="#c0c0c0"/>
<rect x="12" y="596" width="1" height="26" fill="#c0c0c0"/>
<rect x="20" y="596" width="1" height="26" fill="#c0c0c0"/>
<rect x="28" y="596" width="1" height="26" fill="#c0c0c0"/>
<rect x="36" y="596" width="1" height="26" fill="#c0c0c0"/>
<rect x="44" y="596" width="1" height="26" fill="#c0c0c0"/>
<rect x="52" y="596" width="1" height="26" fill="#c0c0c0"/>
<rect x="60" y="596" width="1" height="26" fill="#c0c0c0"/>
<rect x="68" y="596" width="1" height="26" fill="#c0c0c0"/>
<rect x="76" y="596" width="1" height="26" fill="#c0c0c0"/>
<rect x="84" y="596" width="1" height="26" fill="#c0c0c0"/>
<rect x="92" y="596" width="1" height="26" fill="#c0c0c0"/>
<rect x="100" y="596" width="1" height="26" fill="#c0c0c0"/>
<rect x="108" y="596" width="1" height="26" fill="#c0c0c0"/>
<rect x="116" y="596" width="1" height="26" fill="#c0c0c0"/>
<rect x="124" y="596" width="1" height="26" fill="#c0c0c0"/>
<rect x="132" y="595" width="1" height="27" fill="#c0c0c0"/>
<rect x="140" y="596" width="1" height="26" fill="#c0c0c0"/>
<rect x="148" y="599" width="1" height="23" fill="#c0c0c0"/>
<rect x="156" y="599" width="1" height="23" fill="#c0c0c0"/>
<rect x="164" y="601" width="1" height="21" fill="#c0c0c0"/>
<rect x="172" y="602" width="1" height="20" fill="#c0c0c0"/>
<rect x="180" y="604" width="1" height="18" fill="#c0c0c0"/>
<rect x="188" y="606" width="1" height="16" fill="#c0c0c0"/>
<rect x="196" y="609" width="1" height="13" fill="#c0c0c0"/>
<rect x="204" y="610" width="1" height="12" fill="#c0c0c0"/>
<rect x="212" y="610" width="1" height="12" fill="#c0c0c0"/>
<rect x="220" y="609" width="1" height="13" fill="#c0c0c0"/>
<rect x="228" y="609" width="1" height="13" fill="#c0c0c0"/>
<rect x="236" y="609" width="1" height="13" fill="#c0c0c0"/>
<rect x="244" y="609" width="1" height="13" fill="#c0c0c0"/>
<rect x="252" y="610" width="1" height="12" fill="#c0c0c0"/>
<rect x="260" y="610" width="1" height="12" fill="#c0c0c0"/>
<rect x="268" y="612" width="1" height="10" fill="#c0c0c0"/>
<rect x="276" y="614" width="1" height="8" fill="#c0c0c0"/>
<rect x="284" y="614" width="1" height="8" fill="#c0c0c0"/>
<rect x="292" y="614" width="1" height="8" fill="#c0c0c0"/>
<rect x="300" y="614" width="1" height="8" fill="#c0c0c0"/>
<rect x="308" y="613" width="1" height="9" fill="#c0c0c0"/>
<rect x="316" y="613" width="1" height="9" fill="#c0c0c0"/>
<rect x="324" y="614" width="1" height="8" fill="#c0c0c0"/>
<rect x="332" y="614" width="1" height="8" fill="#c0c0c0"/>
<rect x="340" y="613" width="1" height="9" fill="#c0c0c0"/>
<rect x="348" y="610" width="1" height="12" fill="#c0c0c0"/>
<rect x="356" y="608" width="1" height="14" fill="#c0c0c0"/>
<rect x="364" y="606" width="1" height="16" fill="#c0c0c0"/>
<rect x="372" y="605" width="1" height="17" fill="#c0c0c0"/>
<rect x="380" y="606" width="1" height="16" fill="#c0c0c0"/>
<rect x="388" y="606" width="1" height="16" fill="#c0c0c0"/>
<rect x="396" y="607" width="1" height="15" fill="#c0c0c0"/>
<rect x="404" y="607" width="1" height="15" fill="#c0c0c0"/>
<rect x="412" y="608" width="1" height="14" fill="#c0c0c0"/>
<rect x="420" y="609" width="1" height="13" fill="#c0c0c0"/>
<rect x="428" y="610" width="1" height="12" fill="#c0c0c0"/>
<rect x="436" y="610" width="1" height="12" fill="#c0c0c0"/>
<rect x="444" y="611" width="1" height="11" fill="#c0c0c0"/>
<rect x="452" y="612" width="1" height="10" fill="#c0c0c0"/>
<rect x="460" y="615" width="1" height="7" fill="#c0c0c0"/>
<rect x="468" y="617" width="1" height="5" fill="#c0c0c0"/>
<rect x="476" y="619" width="1" height="3" fill="#c0c0c0"/>
<rect x="484" y="619" width="1" height="3" fill="#c0c0c0"/>
<rect x="492" y="621" width="1" height="1" fill="#c0c0c0"/>
<rect x="500" y="621" width="1" height="1" fill="#c0c0c0"/>
<rect x="508" y="621" width="1" height="3" fill="#c0c0c0"/>
<rect x="516" y="621" width="1" height="5" fill="#c0c0c0"/>
<rect x="524" y="621" width="1" height="3" fill="#c0c0c0"/>
<rect x="532" y="621" width="1" height="1" fill="#c0c0c0"/>
<rect x="540" y="621" width="1" height="1" fill="#c0c0c0"/>
<rect x="548" y="621" width="1" height="1" fill="#c0c0c0"/>
<rect x="556" y="619" width="1" height="3" fill="#c0c0c0"/>
<rect x="564" y="617" width="1" height="5" fill="#c0c0c0"/>
<rect x="572" y="616" width="1" height="6" fill="#c0c0c0"/>
<rect x="580" y="614" width="1" height="8" fill="#c0c0c0"/>
<rect x="588" y="613" width="1" height="9" fill="#c0c0c0"/>
<rect x="596" y="612" width="1" height="10" fill="#c0c0c0"/>
<rect x="604" y="611" width="1" height="11" fill="#c0c0c0"/>
<rect x="612" y="613" width="1" height="9" fill="#c0c0c0"/>
<rect x="620" y="614" width="1" height="8" fill="#c0c0c0"/>
<rect x="628" y="614" width="1" height="8" fill="#c0c0c0"/>
<rect x="636" y="616" width="1" height="6" fill="#c0c0c0"/>
<rect x="644" y="620" width="1" height="2" fill="#c0c0c0"/>
<rect x="652" y="621" width="1" height="1" fill="#c0c0c0"/>
<rect x="660" y="621" width="1" height="3" fill="#c0c0c0"/>
<rect x="668" y="621" width="1" height="6" fill="#c0c0c0"/>
<rect x="676" y="621" width="1" height="8" fill="#c0c0c0"/>
<rect x="684" y="621" width="1" height="13" fill="#c0c0c0"/>
<rect x="692" y="621" width="1" height="15" fill="#c0c0c0"/>
<rect x="700" y="621" width="1" height="17" fill="#c0c0c0"/>
<rect x="708" y="621" width="1" height="15" fill="#c0c0c0"/>
<rect x="716" y="621" width="1" height="9" fill="#c0c0c0"/>
<rect x="724" y="621" width="1" height="6" fill="#c0c0c0"/>
<rect x="732" y="621" width="1" height="3" fill="#c0c0c0"/>
<rect x="740" y="621" width="1" height="2" fill="#c0c0c0"/>
<rect x="748" y="621" width="1" height="1" fill="#c0c0c0"/>
<rect x="756" y="620" width="1" height="2" fill="#c0c0c0"/>
<rect x="764" y="618" width="1" height="4" fill="#c0c0c0"/>
<rect x="772" y="618" width="1" height="4" fill="#c0c0c0"/>
<rect x="780" y="619" width="1" height="3" fill="#c0c0c0"/>
<rect x="788" y="621" width="1" height="1" fill="#c0c0c0"/>
<rect x="796" y="621" width="1" height="1" fill="#c0c0c0"/>
<rect x="804" y="621" width="1" height="1" fill="#c0c0c0"/>
<rect x="812" y="621" width="1" height="1" fill="#c0c0c0"/>
<rect x="820" y="621" width="1" height="1" fill="#c0c0c0"/>
<rect x="828" y="621" width="1" height="3" fill="#c0c0c0"/>
<rect x="836" y="621" width="1" height="7" fill="#c0c0c0"/>
<rect x="844" y="621" width="1" height="13" fill="#c0c0c0"/>
<rect x="852" y="621" width="1" height="17" fill="#c0c0c0"/>
<rect x="860" y="621" width="1" height="21" fill="#c0c0c0"/>
<rect x="868" y="621" width="1" height="29" fill="#c0c0c0"/>
<rect x="876" y="621" width="1" height="41" fill="#c0c0c0"/>
<rect x="884" y="621" width="1" height="48" fill="#c0c0c0"/>
<rect x="892" y="621" width="1" height="47" fill="#c0c0c0"/>
<rect x="900" y="621" width="1" height="51" fill="#c0c0c0"/>
<rect x="908" y="621" width="1" height="50" fill="#c0c0c0"/>
<rect x="916" y="621" width="1" height="52" fill="#c0c0c0"/>
<rect x="924" y="621" width="1" height="57" fill="#c0c0c0"/>
<rect x="932" y="621" width="1" height="63" fill="#c0c0c0"/>
<rect x="940" y="621" width="1" height="71" fill="#c0c0c0"/>
<rect x="948" y="621" width="1" height="75" fill="#c0c0c0"/>
<rect x="956" y="621" width="1" height="81" fill="#c0c0c0"/>
<rect x="964" y="621" width="1" height="99" fill="#c0c0c0"/>
<rect x="972" y="621" width="1" height="104" fill="#c0c0c0"/>
<rect x="980" y="621" width="1" height="110" fill="#c0c0c0"/>
<rect x="988" y="621" width="1" height="120" fill="#c0c0c0"/>
<rect x="996" y="621" width="1" height="123" fill="#c0c0c0"/>
<rect x="1004" y="621" width="1" height="124" fill="#c0c0c0"/>
<rect x="1012" y="621" width="1" height="122" fill="#c0c0c0"/>
<rect x="1020" y="621" width="1" height="119" fill="#c0c0c0"/>
<rect x="1028" y="621" width="1" height="121" fill="#c0c0c0"/>
<rect x="1036" y="621" width="1" height="113" fill="#c0c0c0"/>
<rect x="1044" y="621" width="1" height="98" fill="#c0c0c0"/>
<rect x="1052" y="621" width="1" height="84" fill="#c0c0c0"/>
<rect x="1060" y="621" width="1" height="70" fill="#c0c0c0"/>
<rect x="1068" y="621" width="1" height="62" fill="#c0c0c0"/>
<rect x="1076" y="621" width="1" height="55" fill="#c0c0c0"/>
<rect x="1084" y="621" width="1" height="46" fill="#c0c0c0"/>
<rect x="1092" y="621" width="1" height="41" fill="#c0c0c0"/>
<rect x="1100" y="621" width="1" height="42" fill="#c0c0c0"/>
<rect x="1108" y="621" width="1" height="41" fill="#c0c0c0"/>
<rect x="1116" y="621" width="1" height="42" fill="#c0c0c0"/>
<rect x="1124" y="621" width="1" height="41" fill="#c0c0c0"/>
<rect x="1132" y="621" width="1" height="32" fill="#c0c0c0"/>
<rect x="1140" y="621" width="1" height="25" fill="#c0c0c0"/>
<rect x="1148" y="621" width="1" height="17" fill="#c0c0c0"/>
<rect x="1156" y="621" width="1" height="9" fill="#c0c0c0"/>
<rect x="1164" y="621" width="1" height="5" fill="#c0c0c0"/>
<rect x="1172" y="621" width="1" height="1" fill="#c0c0c0"/>
<rect x="1180" y="621" width="1" height="1" fill="#c0c0c0"/>
<rect x="1188" y="617" width="1" height="5" fill="#c0c0c0"/>
<rect x="1196" y="616" width="1" height="6" fill="#c0c0c0"/>
<rect x="1204" y="612" width="1" height="10" fill="#c0c0c0"/>
<rect x="1212" y="610" width="1" height="12" fill="#c0c0c0"/>
<rect x="1220" y="609" width="1" height="13" fill="#c0c0c0"/>
<rect x="1228" y="608" width="1" height="14" fill="#c0c0c0"/>
<rect x="1236" y="611" width="1" height="11" fill="#c0c0c0"/>
<rect x="1244" y="612" width="1" height="10" fill="#c0c0c0"/>
<rect x="1252" y="612" width="1" height="10" fill="#c0c0c0"/>
<rect x="1260" y="611" width="1" height="11" fill="#c0c0c0"/>
<rect x="1268" y="610" width="1" height="12" fill="#c0c0c0"/>
<rect x="1276" y="609" width="1" height="13" fill="#c0c0c0"/>
<rect x="1284" y="606" width="1" height="16" fill="#c0c0c0"/>
<rect x="1292" y="602" width="1" height="20" fill="#c0c0c0"/>
<rect x="1300" y="601" width="1" height="21" fill="#c0c0c0"/>
<rect x="1308" y="604" width="1" height="18" fill="#c0c0c0"/>
<rect x="1316" y="607" width="1" height="15" fill="#c0c0c0"/>
<rect x="1324" y="610" width="1" height="12" fill="#c0c0c0"/>
<rect x="1332" y="610" width="1" height="12" fill="#c0c0c0"/>
<rect x="1340" y="612" width="1" height="10" fill="#c0c0c0"/>
<rect x="1348" y="610" width="1" height="12" fill="#c0c0c0"/>
<rect x="1356" y="607" width="1" height="15" fill="#c0c0c0"/>
<rect x="1364" y="604" width="1" height="18" fill="#c0c0c0"/>
<rect x="1372" y="601" width="1" height="21" fill="#c0c0c0"/>
<rect x="1380" y="602" width="1" height="20" fill="#c0c0c0"/>
<rect x="1388" y="602" width="1" height="20" fill="#c0c0c0"/>
<rect x="1396" y="602" width="1" height="20" fill="#c0c0c0"/>
</g>
<polyline fill="none" stroke="#ff0000" stroke-width="1" stroke-dasharray="3 3" shape-rendering="crispEdges" points="4.5,600.0 20.5,597.0 60.5,595.0 130.5,594.4 160.5,594.4 176.5,597.0 196.5,600.0 220.5,604.0 250.5,608.0 296.5,611.0 336.5,613.4 356.5,612.0 376.5,610.0 396.5,607.4 416.5,606.4 430.5,606.4 448.5,607.6 466.5,610.0 480.5,611.6 490.5,614.4 506.5,616.0 516.5,619.0 536.5,621.6 546.5,622.4 566.5,622.4 576.5,621.0 588.5,619.0 602.5,615.6 620.5,613.6 646.5,613.6 660.5,615.6 672.5,618.5 682.5,621.6 692.5,625.0 704.5,629.0 722.5,632.4 742.5,631.4 752.5,629.6 766.5,626.4 784.5,621.6 802.5,620.6 816.5,619.4 832.5,620.6 844.5,623.0 860.5,627.0 874.5,633.6 884.5,642.0 896.5,648.0 908.5,657.0 922.5,664.0 940.5,674.0 956.5,683.0 972.5,694.0 988.5,708.0 1000.5,718.4 1010.5,726.4 1020.5,733.0 1028.5,737.6 1044.5,738.4 1052.5,735.0 1066.5,725.0 1078.5,713.6 1088.5,703.0 1100.5,689.6 1110.5,679.6 1118.5,674.0 1130.5,668.0 1146.5,659.0 1160.5,651.0 1178.5,642.0 1188.5,635.0 1202.5,626.4 1212.5,621.4 1220.5,617.4 1228.5,615.6 1244.5,612.4 1260.5,610.4 1288.5,609.0 1300.5,607.4 1316.5,606.4 1370.5,606.4 1396.5,605.0"/>
</g>
<text x="0.8" y="596" class="t" textLength="126.4" lengthAdjust="spacingAndGlyphs">MACD(12,26,9) 239.87 200.16</text>
<text x="0.6" y="768" class="t" textLength="67" lengthAdjust="spacingAndGlyphs">RSI(14) 56.0062</text>
<g shape-rendering="crispEdges">
<line x1="3" y1="791.5" x2="1634" y2="791.5" stroke="#c0c0c0" stroke-width="1" stroke-dasharray="3 3"/>
<line x1="3" y1="842.5" x2="1634" y2="842.5" stroke="#c0c0c0" stroke-width="1" stroke-dasharray="3 3"/>
<line x1="3" y1="903.5" x2="1634" y2="903.5" stroke="#c0c0c0" stroke-width="1" stroke-dasharray="3 3"/>
</g>
<polyline fill="none" stroke="#1e90ff" stroke-width="1"  points="-3.5,801.8 4.5,801.4 12.5,800.6 20.5,799.4 28.5,796.6 36.5,798.0 44.5,798.0 52.5,820.0 60.5,810.6 68.5,809.4 76.5,801.0 84.5,797.4 92.5,802.4 100.5,794.6 108.5,804.0 116.5,804.0 124.5,812.4 132.5,809.4 140.5,817.4 148.5,828.4 156.5,819.4 164.5,825.4 172.5,822.6 180.5,834.0 188.5,840.6 196.5,842.4 204.5,835.0 212.5,828.0 220.5,821.4 228.5,822.6 236.5,821.4 244.5,821.4 252.5,832.4 260.5,829.6 268.5,841.4 276.5,845.4 284.5,836.4 292.5,833.4 300.5,824.6 308.5,823.4 316.5,835.4 324.5,836.6 332.5,835.4 340.5,812.4 348.5,813.4 356.5,812.0 364.5,807.4 372.5,812.4 380.5,822.4 388.5,822.4 396.5,825.4 404.5,823.4 412.5,828.0 420.5,830.4 428.5,834.4 436.5,822.4 444.5,833.0 452.5,835.4 460.5,855.6 468.5,854.4 476.5,849.4 484.5,837.4 492.5,856.4 500.5,860.6 508.5,858.4 516.5,864.4 524.5,842.4 532.5,833.4 540.5,835.6 548.5,834.4 556.5,824.4 564.5,828.4 572.5,826.4 580.5,820.4 588.5,825.4 596.5,823.4 604.5,824.4 612.5,839.4 620.5,839.4 628.5,837.0 636.5,849.4 644.5,864.0 652.5,871.4 660.5,861.4 668.5,862.4 676.5,868.0 684.5,880.4 692.5,875.6 700.5,869.4 708.5,847.4 716.5,834.4 724.5,825.4 732.5,835.4 740.5,838.4 748.5,835.4 756.5,831.4 764.5,831.4 772.5,839.4 780.5,845.4 788.5,845.6 796.5,849.4 804.5,852.6 812.5,837.4 820.5,848.4 828.5,856.4 836.5,866.4 844.5,875.4 852.5,876.4 860.5,877.4 868.5,891.4 876.5,899.4 884.5,889.4 892.5,864.6 900.5,874.4 908.5,862.6 916.5,868.4 924.5,876.4 932.5,880.4 940.5,885.4 948.5,880.6 956.5,886.4 964.5,898.4 972.5,877.4 980.5,880.4 988.5,886.4 996.5,878.4 1004.5,878.4 1012.5,874.4 1020.5,875.6 1028.5,880.4 1036.5,863.4 1044.5,846.4 1052.5,846.4 1060.5,842.4 1068.5,848.4 1076.5,848.4 1084.5,841.6 1092.5,848.4 1100.5,855.4 1108.5,855.4 1116.5,857.6 1124.5,855.4 1132.5,839.4 1140.5,839.4 1148.5,835.4 1156.5,832.4 1164.5,835.4 1172.5,837.4 1180.5,839.4 1188.5,833.4 1196.5,838.4 1204.5,831.4 1212.5,833.4 1220.5,833.4 1228.5,836.4 1236.5,843.4 1244.5,840.4 1252.5,839.4 1260.5,836.4 1268.5,836.4 1276.5,829.4 1284.5,826.4 1292.5,819.4 1300.5,830.4 1308.5,840.4 1316.5,846.2 1324.5,842.0 1332.5,838.5 1340.5,842.5 1348.5,832.0 1356.5,826.8 1364.5,824.5 1372.5,822.5 1380.5,832.5 1388.5,831.5 1396.5,832.5"/>
<g shape-rendering="crispEdges">
<rect x="60" y="930" width="1" height="3" fill="#000"/>
<rect x="124" y="930" width="1" height="3" fill="#000"/>
<rect x="188" y="930" width="1" height="3" fill="#000"/>
<rect x="252" y="930" width="1" height="3" fill="#000"/>
<rect x="316" y="930" width="1" height="3" fill="#000"/>
<rect x="380" y="930" width="1" height="3" fill="#000"/>
<rect x="444" y="930" width="1" height="3" fill="#000"/>
<rect x="508" y="930" width="1" height="3" fill="#000"/>
<rect x="572" y="930" width="1" height="3" fill="#000"/>
<rect x="636" y="930" width="1" height="3" fill="#000"/>
<rect x="700" y="930" width="1" height="3" fill="#000"/>
<rect x="764" y="930" width="1" height="3" fill="#000"/>
<rect x="828" y="930" width="1" height="3" fill="#000"/>
<rect x="892" y="930" width="1" height="3" fill="#000"/>
<rect x="956" y="930" width="1" height="3" fill="#000"/>
<rect x="1020" y="930" width="1" height="3" fill="#000"/>
<rect x="1084" y="930" width="1" height="3" fill="#000"/>
<rect x="1148" y="930" width="1" height="3" fill="#000"/>
<rect x="1212" y="930" width="1" height="3" fill="#000"/>
<rect x="1276" y="930" width="1" height="3" fill="#000"/>
<rect x="1340" y="930" width="1" height="3" fill="#000"/>
</g>
<text x="-5.6" y="941.5" class="t">23 Oct 2019</text>
<text x="59.4" y="941.5" class="t">1 Nov 2019</text>
<text x="123.4" y="941.5" class="t">11 Nov 2019</text>
<text x="187.4" y="941.5" class="t">20 Nov 2019</text>
<text x="251.4" y="941.5" class="t">29 Nov 2019</text>
<text x="315.4" y="941.5" class="t">9 Dec 2019</text>
<text x="379.4" y="941.5" class="t">18 Dec 2019</text>
<text x="443.4" y="941.5" class="t">27 Dec 2019</text>
<text x="507.4" y="941.5" class="t">6 Jan 2020</text>
<text x="571.4" y="941.5" class="t">15 Jan 2020</text>
<text x="635.4" y="941.5" class="t">24 Jan 2020</text>
<text x="699.4" y="941.5" class="t">3 Feb 2020</text>
<text x="763.4" y="941.5" class="t">12 Feb 2020</text>
<text x="827.4" y="941.5" class="t">21 Feb 2020</text>
<text x="891.4" y="941.5" class="t">2 Mar 2020</text>
<text x="955.4" y="941.5" class="t">11 Mar 2020</text>
<text x="1019.4" y="941.5" class="t">20 Mar 2020</text>
<text x="1083.4" y="941.5" class="t">30 Mar 2020</text>
<text x="1147.4" y="941.5" class="t">8 Apr 2020</text>
<text x="1211.4" y="941.5" class="t">17 Apr 2020</text>
<text x="1275.4" y="941.5" class="t">27 Apr 2020</text>
<text x="1339.4" y="941.5" class="t">6 May 2020</text>
</svg>
<svg width="1681" height="28" viewBox="0 0 1681 28" style="position:absolute;left:0;top:0">
<defs><linearGradient id="gplus" x1="0" y1="0" x2="1" y2="1"><stop offset="0" stop-color="#5cf05c"/><stop offset="1" stop-color="#08a808"/></linearGradient><linearGradient id="ggold" x1="0" y1="0" x2="1" y2="1"><stop offset="0" stop-color="#fbe58a"/><stop offset="0.5" stop-color="#e8b820"/><stop offset="1" stop-color="#b07808"/></linearGradient><linearGradient id="gblue" x1="0" y1="0" x2="0" y2="1"><stop offset="0" stop-color="#58b8ff"/><stop offset="1" stop-color="#1060d8"/></linearGradient><linearGradient id="gcloud" x1="0" y1="0" x2="0" y2="1"><stop offset="0" stop-color="#ffffff"/><stop offset="1" stop-color="#b8c8e8"/></linearGradient><radialGradient id="glens" cx="0.4" cy="0.35" r="0.7"><stop offset="0" stop-color="#f4fbff"/><stop offset="1" stop-color="#b8e0f8"/></radialGradient><linearGradient id="ggrn" x1="0" y1="0" x2="0" y2="1"><stop offset="0" stop-color="#58b028"/><stop offset="1" stop-color="#2c8a10"/></linearGradient><linearGradient id="gblu2" x1="0" y1="0" x2="0" y2="1"><stop offset="0" stop-color="#2a58d8"/><stop offset="1" stop-color="#1038b0"/></linearGradient><linearGradient id="gcan" x1="0" y1="0" x2="1" y2="0"><stop offset="0" stop-color="#70f070"/><stop offset="1" stop-color="#10b810"/></linearGradient><pattern id="chk2" width="2" height="2" patternUnits="userSpaceOnUse"><rect width="2" height="2" fill="#ffffff"/><rect width="1" height="1" fill="#f0f0f0"/><rect x="1" y="1" width="1" height="1" fill="#f0f0f0"/></pattern></defs>
<rect x="0" y="0" width="1681" height="24" fill="#f0f0f0"/>
<g shape-rendering="crispEdges">
<rect x="0" y="24" width="1681" height="1" fill="#a6a6a6"/>
<rect x="0" y="25" width="1681" height="1" fill="#696969"/>
<rect x="231" y="0" width="1" height="24" fill="#a0a0a0"/><rect x="232" y="0" width="1" height="24" fill="#ffffff"/>
<rect x="235" y="2" width="3" height="1" fill="#a8a8a8"/>
<rect x="235" y="4" width="3" height="1" fill="#a8a8a8"/>
<rect x="235" y="6" width="3" height="1" fill="#a8a8a8"/>
<rect x="235" y="8" width="3" height="1" fill="#a8a8a8"/>
<rect x="235" y="10" width="3" height="1" fill="#a8a8a8"/>
<rect x="235" y="12" width="3" height="1" fill="#a8a8a8"/>
<rect x="235" y="14" width="3" height="1" fill="#a8a8a8"/>
<rect x="235" y="16" width="3" height="1" fill="#a8a8a8"/>
<rect x="235" y="18" width="3" height="1" fill="#a8a8a8"/>
<rect x="235" y="20" width="3" height="1" fill="#a8a8a8"/>
<rect x="599" y="0" width="1" height="24" fill="#a0a0a0"/><rect x="600" y="0" width="1" height="24" fill="#ffffff"/>
<rect x="603" y="2" width="3" height="1" fill="#a8a8a8"/>
<rect x="603" y="4" width="3" height="1" fill="#a8a8a8"/>
<rect x="603" y="6" width="3" height="1" fill="#a8a8a8"/>
<rect x="603" y="8" width="3" height="1" fill="#a8a8a8"/>
<rect x="603" y="10" width="3" height="1" fill="#a8a8a8"/>
<rect x="603" y="12" width="3" height="1" fill="#a8a8a8"/>
<rect x="603" y="14" width="3" height="1" fill="#a8a8a8"/>
<rect x="603" y="16" width="3" height="1" fill="#a8a8a8"/>
<rect x="603" y="18" width="3" height="1" fill="#a8a8a8"/>
<rect x="603" y="20" width="3" height="1" fill="#a8a8a8"/>
<rect x="905" y="0" width="1" height="24" fill="#a0a0a0"/><rect x="906" y="0" width="1" height="24" fill="#ffffff"/>
<rect x="909" y="2" width="3" height="1" fill="#a8a8a8"/>
<rect x="909" y="4" width="3" height="1" fill="#a8a8a8"/>
<rect x="909" y="6" width="3" height="1" fill="#a8a8a8"/>
<rect x="909" y="8" width="3" height="1" fill="#a8a8a8"/>
<rect x="909" y="10" width="3" height="1" fill="#a8a8a8"/>
<rect x="909" y="12" width="3" height="1" fill="#a8a8a8"/>
<rect x="909" y="14" width="3" height="1" fill="#a8a8a8"/>
<rect x="909" y="16" width="3" height="1" fill="#a8a8a8"/>
<rect x="909" y="18" width="3" height="1" fill="#a8a8a8"/>
<rect x="909" y="20" width="3" height="1" fill="#a8a8a8"/>
<rect x="326" y="1" width="1" height="21" fill="#a0a0a0"/>
<rect x="416" y="1" width="1" height="21" fill="#a0a0a0"/>
<rect x="478" y="1" width="1" height="21" fill="#a0a0a0"/>
<rect x="666" y="1" width="1" height="21" fill="#a0a0a0"/>
<rect x="1166" y="0" width="1" height="24" fill="#a0a0a0"/>
<rect x="269" y="0" width="25" height="23" fill="url(#chk2)"/>
<rect x="269" y="0" width="25" height="1" fill="#a0a0a0"/><rect x="269" y="0" width="1" height="23" fill="#a0a0a0"/>
<rect x="270" y="22" width="24" height="1" fill="#ffffff"/><rect x="293" y="1" width="1" height="22" fill="#ffffff"/>
<rect x="421" y="0" width="26" height="23" fill="url(#chk2)"/>
<rect x="421" y="0" width="26" height="1" fill="#a0a0a0"/><rect x="421" y="0" width="1" height="23" fill="#a0a0a0"/>
<rect x="422" y="22" width="25" height="1" fill="#ffffff"/><rect x="446" y="1" width="1" height="22" fill="#ffffff"/>
<rect x="449" y="0" width="26" height="23" fill="url(#chk2)"/>
<rect x="449" y="0" width="26" height="1" fill="#a0a0a0"/><rect x="449" y="0" width="1" height="23" fill="#a0a0a0"/>
<rect x="450" y="22" width="25" height="1" fill="#ffffff"/><rect x="474" y="1" width="1" height="22" fill="#ffffff"/>
<rect x="609" y="0" width="26" height="23" fill="url(#chk2)"/>
<rect x="609" y="0" width="26" height="1" fill="#a0a0a0"/><rect x="609" y="0" width="1" height="23" fill="#a0a0a0"/>
<rect x="610" y="22" width="25" height="1" fill="#ffffff"/><rect x="634" y="1" width="1" height="22" fill="#ffffff"/>
<rect x="1083" y="0" width="26" height="23" fill="url(#chk2)"/>
<rect x="1083" y="0" width="26" height="1" fill="#a0a0a0"/><rect x="1083" y="0" width="1" height="23" fill="#a0a0a0"/>
<rect x="1084" y="22" width="25" height="1" fill="#ffffff"/><rect x="1108" y="1" width="1" height="22" fill="#ffffff"/>
</g>
<polygon points="509.5,11 515.5,11 512.5,14" fill="#000"/>
<polygon points="548.5,11 554.5,11 551.5,14" fill="#000"/>
<polygon points="587.5,11 593.5,11 590.5,14" fill="#000"/>
<polygon points="893.5,11 899.5,11 896.5,14" fill="#000"/>
<path d="M5.5 4.5 h7 l4 4 v10 h-11 z" fill="#fff" stroke="#8a8a8a" stroke-width="1"/>
<path d="M12.5 4.5 v4 h4" fill="#e8e8e8" stroke="#8a8a8a" stroke-width="1"/>
<rect x="7" y="7" width="3" height="2" fill="#9a9a9a"/><rect x="7" y="11" width="6" height="1" fill="#b0b0b0"/><rect x="7" y="13" width="6" height="1" fill="#b0b0b0"/>
<path d="M13.3 10.0 h3 v4 h4 v3 h-4 v4 h-3 v-4 h-4 v-3 h4 z" fill="url(#gplus)" stroke="#0a8a0a" stroke-width="0.8"/>
<text x="24" y="15.5" style="font-family:'Liberation Sans','Noto Sans CJK SC',sans-serif;font-size:12px;fill:#000">新订单</text>
<path d="M72.5 13 L79 5.5 L87.5 12.5 L81 19.5 Z" fill="url(#ggold)" stroke="#a87408" stroke-width="1"/>
<path d="M72.5 13 L81 19.5 L81 20.5 L72.5 14.5 Z" fill="#9a6a08"/><path d="M81 19.5 L87.5 12.5 L87.5 14 L81 20.8 Z" fill="#f4e8c0" stroke="#a87408" stroke-width="0.6"/>
<path d="M103 4.5 L113 5.5 L113 15 L103 14 Z" fill="url(#gblue)" stroke="#2070d0" stroke-width="0.8"/><rect x="106" y="8" width="5" height="1.5" fill="#d0ecff"/><path d="M103 4.5 L105 5 L105 14.3 L103 14 Z" fill="#fff" opacity="0.8"/>
<path d="M102 19.5 a3 3 0 0 1 0 -6 a4 4 0 0 1 7 -1.5 a3 3 0 0 1 5 1.5 a3 3 0 0 1 0 6 z" fill="url(#gcloud)" stroke="#6f8fc8" stroke-width="1"/>
<g fill="none" stroke-linecap="round"><path d="M130.5 17 a8 8 0 0 1 5 -12.5" stroke="#7a9ee0" stroke-width="1.3"/><path d="M133 15 a5 5 0 0 1 2.5 -8" stroke="#5a82d8" stroke-width="1.3"/><path d="M136 4.5 a8 8 0 0 1 5 13.5 q-2 1.5 -5 1.3" stroke="#58a858" stroke-width="1.5"/><path d="M136 7.5 a5 5 0 0 1 3 8" stroke="#78b878" stroke-width="1.3"/></g>
<circle cx="136" cy="11.5" r="2" fill="#2858d0"/><rect x="135.6" y="12" width="1.6" height="7.5" fill="#28a028"/>
<path d="M156 12 L170 12 L164 20 L161 20 Z" fill="#f8d848" stroke="#d8a818" stroke-width="0.8"/>
<ellipse cx="163" cy="10" rx="8" ry="2.6" fill="#58a8e0" stroke="#3080c0" stroke-width="0.8"/><path d="M158.5 9.5 q0.5 -5 4.5 -5 q4 0 4.5 5 z" fill="#68b8e8" stroke="#3080c0" stroke-width="0.8"/>
<circle cx="167.5" cy="15.5" r="4.2" fill="#d82818" stroke="#b01808" stroke-width="0.6"/><rect x="165.7" y="13.7" width="3.6" height="3.6" fill="#fff"/>
<text x="176.8" y="15.5" textLength="46.4" lengthAdjust="spacingAndGlyphs" style="font-family:'Liberation Sans','Noto Sans CJK SC',sans-serif;font-size:12px;fill:#000">自动交易</text>
<g stroke="#505050" stroke-width="1.2" fill="none"><path d="M249.5 19.5 V7"/><path d="M247.0 17.5 H259.5"/></g>
<path d="M249.5 6 l-2 3 h4 z M261.5 17.5 l-3 -2 v4 z" fill="#505050"/>
<path d="M257.5 7.5 V15 M257.5 8 H260 M255 14.5 H257.5" stroke="#189018" stroke-width="1.4" fill="none"/>
<g stroke="#505050" stroke-width="1.2" fill="none"><path d="M277.5 19.5 V7"/><path d="M275.0 17.5 H287.5"/></g>
<path d="M277.5 6 l-2 3 h4 z M289.5 17.5 l-3 -2 v4 z" fill="#505050"/>
<rect x="283" y="4" width="1.4" height="12" fill="#18a018"/><rect x="281.5" y="6.5" width="4.5" height="7.5" fill="url(#gcan)" stroke="#18a018" stroke-width="0.8"/>
<g stroke="#505050" stroke-width="1.2" fill="none"><path d="M305.5 19.5 V7"/><path d="M303.0 17.5 H315.5"/></g>
<path d="M305.5 6 l-2 3 h4 z M317.5 17.5 l-3 -2 v4 z" fill="#505050"/>
<path d="M304 15 Q309 7.5 311 9 T316 13.5" stroke="#289028" stroke-width="1.2" fill="none"/>
<path d="M345.0 14 L351.0 20" stroke="#c89818" stroke-width="3" stroke-linecap="round"/><path d="M345.0 14 L350.6 19.6" stroke="#f0d048" stroke-width="1.4" stroke-linecap="round"/>
<circle cx="341.0" cy="10" r="5.6" fill="url(#glens)" stroke="#3a7ccc" stroke-width="1.2"/>
<rect x="338.0" y="9.2" width="6" height="1.6" fill="#3a86b0"/>
<rect x="340.2" y="7" width="1.6" height="6" fill="#3a86b0"/>
<path d="M373.0 14 L379.0 20" stroke="#c89818" stroke-width="3" stroke-linecap="round"/><path d="M373.0 14 L378.6 19.6" stroke="#f0d048" stroke-width="1.4" stroke-linecap="round"/>
<circle cx="369.0" cy="10" r="5.6" fill="url(#glens)" stroke="#3a7ccc" stroke-width="1.2"/>
<rect x="366.0" y="9.2" width="6" height="1.6" fill="#3a86b0"/>
<rect x="391" y="4" width="8" height="8" fill="url(#ggrn)"/><rect x="392.2" y="7.2" width="5.6" height="3.6" fill="#fff"/><rect x="393.2" y="8.5" width="3.6" height="1" fill="#9c9"/><rect x="392.2" y="5.2" width="1" height="1" fill="#cfe"/>
<rect x="399" y="4" width="8" height="8" fill="url(#gblu2)"/><rect x="400.2" y="7.2" width="5.6" height="3.6" fill="#fff"/><rect x="401.2" y="8.5" width="3.6" height="1" fill="#9ad"/><rect x="400.2" y="5.2" width="1" height="1" fill="#cfe"/>
<rect x="391" y="12" width="8" height="8" fill="url(#gblu2)"/><rect x="392.2" y="15.2" width="5.6" height="3.6" fill="#fff"/><rect x="393.2" y="16.5" width="3.6" height="1" fill="#9ad"/><rect x="392.2" y="13.2" width="1" height="1" fill="#cfe"/>
<rect x="399" y="12" width="8" height="8" fill="url(#ggrn)"/><rect x="400.2" y="15.2" width="5.6" height="3.6" fill="#fff"/><rect x="401.2" y="16.5" width="3.6" height="1" fill="#9c9"/><rect x="400.2" y="13.2" width="1" height="1" fill="#cfe"/>
<g stroke="#505050" stroke-width="1.2" fill="none"><path d="M429.5 19.5 V7"/><path d="M427.0 17.5 H439.5"/></g>
<path d="M429.5 6 l-2 3 h4 z M441.5 17.5 l-3 -2 v4 z" fill="#505050"/>
<path d="M434.5 8 L438.5 11.5 L434.5 15 Z" fill="#30c030" stroke="#109010" stroke-width="0.8"/>
<g stroke="#505050" stroke-width="1.2" fill="none"><path d="M457.5 19.5 V7"/><path d="M455.0 17.5 H467.5"/></g>
<path d="M457.5 6 l-2 3 h4 z M469.5 17.5 l-3 -2 v4 z" fill="#505050"/>
<rect x="463" y="6" width="1.3" height="10" fill="#2068c0"/><path d="M464.5 11.5 l3.5 -2.8 v2 h2 v1.6 h-2 v2 z" fill="#e04808"/>
<path d="M488.5 4.5 h8 l4 4 v9 h-12 z" fill="#fff" stroke="#8a8a8a" stroke-width="1"/>
<path d="M496.5 4.5 v4 h4" fill="#e8e8e8" stroke="#8a8a8a" stroke-width="1"/>
<path d="M491 8 q-1.5 3 0 7" stroke="#888" fill="none"/>
<path d="M496.3 10.0 h3 v4 h4 v3 h-4 v4 h-3 v-4 h-4 v-3 h4 z" fill="url(#gplus)" stroke="#0a8a0a" stroke-width="0.8"/>
<circle cx="534" cy="12" r="6.5" fill="#fff" stroke="url(#gblue)" stroke-width="2.5"/><circle cx="534" cy="12" r="7.8" fill="none" stroke="#1050b8" stroke-width="0.6"/>
<path d="M533.5 8.5 V12 H536.5" stroke="#202020" stroke-width="1.2" fill="none"/><g fill="#9aa"><rect x="533.6" y="7" width="0.8" height="1"/><rect x="538" y="11.6" width="1" height="0.8"/><rect x="529" y="11.6" width="1" height="0.8"/></g><circle cx="534" cy="15.5" r="0.8" fill="#58a0f0"/>
<rect x="565.5" y="5.5" width="15" height="13" fill="#fff" stroke="#3a78c8" stroke-width="1"/><rect x="566" y="6" width="14" height="2" fill="#6aa8e8"/><rect x="566" y="12.4" width="14" height="1" fill="#3a78c8"/>
<path d="M567.5 11 h2 l1 -1 h2 l1 1 h2 l1 -1.2 h2" stroke="#a02808" stroke-width="1.2" fill="none"/><path d="M568 16.5 h2 l1 -1 h2 l1.4 -1.3 l1.6 2 h1.5" stroke="#189028" stroke-width="1.2" fill="none"/>
<path d="M617.5 5 L617.5 16.5 L620.3 14 L622.6 19 L624.6 18 L622.4 13.2 L626 13 Z" fill="#505050"/>
<g stroke="#404040" stroke-width="1.2"><path d="M649.5 5 V11 M649.5 14 V20 M642 12.5 H648 M651 12.5 H657"/></g>
<g stroke="#404040" stroke-width="1.3" fill="none"><path d="M683.5 6 V19"/><path d="M706 12.5 H718"/><path d="M733.5 19 L746 7"/></g>
<g stroke="#505050" stroke-width="1" fill="none"><path d="M760 14 L772 6 M761 18 L773 10"/><path d="M763 11 L762 17.5 M766 9 L765 15.5 M769 7 L768 13.5 M772 4.5 L771 11.5" stroke-width="0.9"/></g>
<text x="770.5" y="20.5" style="font-family:'Liberation Sans',sans-serif;font-size:6.5px;font-weight:bold;fill:#404040">E</text>
<path d="M789 5.5 H802" stroke="#505050" stroke-width="1" stroke-dasharray="1 1"/>
<path d="M789 9.5 H802" stroke="#505050" stroke-width="1" stroke-dasharray="1 1"/>
<path d="M789 13.5 H802" stroke="#505050" stroke-width="1" stroke-dasharray="1 1"/>
<path d="M789 17.5 H797" stroke="#505050" stroke-width="1" stroke-dasharray="1 1"/>
<text x="798.5" y="20.5" style="font-family:'Liberation Sans',sans-serif;font-size:6.5px;font-weight:bold;fill:#404040">F</text>
<text x="819.5" y="17" style="font-family:'Liberation Sans',sans-serif;font-size:12.5px;fill:#505050">A</text>
<rect x="846.5" y="6.5" width="11" height="12" fill="none" stroke="#505050" stroke-width="1" stroke-dasharray="1 1"/><path d="M849 9 H856 M852.5 9 V16.5" stroke="#505050" stroke-width="1.6" fill="none"/><rect x="845.5" y="5" width="2" height="1.4" fill="#505050"/>
<path d="M876 6 l3 3 h-6 z M876 11.5 l-3 -2.5 h6 z" fill="#505050"/><path d="M884 18.5 l3 -3 h-6 z M884 13 l-3 2.5 h6 z" fill="#505050"/><path d="M876.5 13 l2 2 l4 -4" stroke="#505050" stroke-width="1.3" fill="none"/>
<text x="920.5" y="16" textLength="13.0" lengthAdjust="spacingAndGlyphs" style="font-family:'Liberation Sans',sans-serif;font-size:9.4px;fill:#303030">M1</text>
<text x="948.5" y="16" textLength="13.0" lengthAdjust="spacingAndGlyphs" style="font-family:'Liberation Sans',sans-serif;font-size:9.4px;fill:#303030">M5</text>
<text x="974.5" y="16" textLength="18.0" lengthAdjust="spacingAndGlyphs" style="font-family:'Liberation Sans',sans-serif;font-size:9.4px;fill:#303030">M15</text>
<text x="1002.5" y="16" textLength="18.0" lengthAdjust="spacingAndGlyphs" style="font-family:'Liberation Sans',sans-serif;font-size:9.4px;fill:#303030">M30</text>
<text x="1033.5" y="16" textLength="12.0" lengthAdjust="spacingAndGlyphs" style="font-family:'Liberation Sans',sans-serif;font-size:9.4px;fill:#303030">H1</text>
<text x="1060.5" y="16" textLength="13.0" lengthAdjust="spacingAndGlyphs" style="font-family:'Liberation Sans',sans-serif;font-size:9.4px;fill:#303030">H4</text>
<text x="1090.0" y="16" textLength="11.5" lengthAdjust="spacingAndGlyphs" style="font-family:'Liberation Sans',sans-serif;font-size:9.4px;fill:#303030">D1</text>
<text x="1117.0" y="16" textLength="14.5" lengthAdjust="spacingAndGlyphs" style="font-family:'Liberation Sans',sans-serif;font-size:9.4px;fill:#303030">W1</text>
<text x="1143.5" y="16" textLength="15.0" lengthAdjust="spacingAndGlyphs" style="font-family:'Liberation Sans',sans-serif;font-size:9.4px;fill:#303030">MN</text>
<path d="M1633.5 12.5 L1629 17.5" stroke="#1a48d0" stroke-width="2.6" stroke-linecap="round"/><circle cx="1636.5" cy="9.4" r="3.9" fill="#fdfdff" stroke="#2258d8" stroke-width="1.4"/>
<path d="M1663 9 a6.5 4.6 0 1 1 9.5 4 l0.5 2.4 l-2.6 -1.8 a6.5 4.6 0 0 1 -7.4 -4.6 z" fill="#f8f8fc" stroke="#909090" stroke-width="0.9"/>
<path d="M1655 12.6 a5 3.7 0 1 1 4 3.6 l-2.2 2.3 l0.3 -2.8 a5 3.7 0 0 1 -2.1 -3.1 z" fill="#f4f4fa" stroke="#888" stroke-width="0.9"/>
</svg>
</body></html>
